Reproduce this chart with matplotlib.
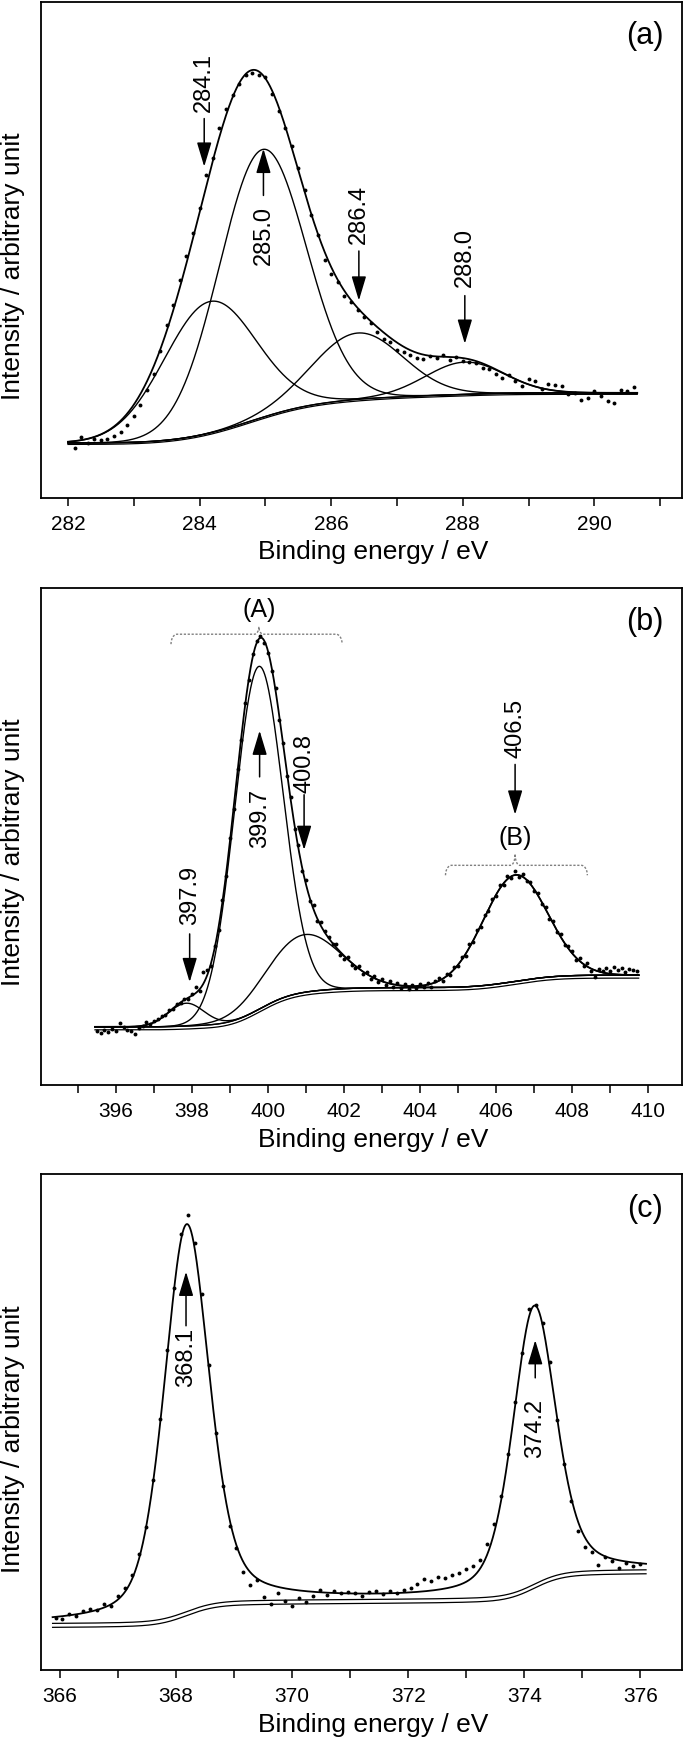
import numpy as np
import matplotlib
matplotlib.use("Agg")
import matplotlib.pyplot as plt

plt.rcParams['font.family'] = ['Liberation Sans', 'DejaVu Sans']

# ---------------- Panel (a): C 1s ----------------
a_x = np.round(np.arange(282.1, 290.65, 0.1), 2)
a_y = [10.0, 12.2, 11.0, 11.9, 11.6, 11.8, 12.6, 13.3, 14.8, 16.6,
       18.8, 21.8, 25.0, 29.6, 34.8, 39.0, 44.0, 48.8, 53.5, 58.5,
       65.2, 68.5, 74.5, 78.5, 81.2, 83.5, 85.3, 85.6, 85.2, 84.8,
       81.5, 78.0, 74.5, 71.0, 66.5, 62.0, 57.0, 53.0, 48.0, 45.2,
       43.5, 40.8, 39.5, 38.0, 36.5, 35.2, 33.5, 32.0, 31.5, 29.8,
       29.5, 28.8, 28.2, 28.0, 28.6, 28.2, 28.8, 27.8, 28.5, 27.6,
       27.5, 27.3, 26.3, 26.0, 25.0, 24.2, 24.8, 23.5, 22.5, 24.0,
       23.6, 22.0, 23.0, 22.8, 22.5, 21.0, 21.2, 19.8, 20.2, 21.5,
       20.5, 19.5, 19.2, 21.8, 21.5, 22.4]
a_centers = [284.15, 284.95, 286.40, 288.03]
a_heights = [26.5, 54.0, 13.4, 6.5]
a_fwhm = [1.65, 1.55, 1.60, 1.40]
a_eta = 0.0
a_bg_low = 11.1
a_groups = [[0, 1, 2, 3]]
a_steps = [10.1]
a_span = (282.0, 290.65)
a_xlim = (281.59, 291.33)
a_ticks = list(range(282, 292, 2))
a_minor = list(range(282, 292))
a_labels = ['284.1', '285.0', '286.4', '288.0']

# ---------------- Panel (b): N 1s ----------------
b_x = np.round(np.arange(395.5, 409.75, 0.1), 2)
b_y = [10.9, 10.5, 11.0, 10.7, 11.3, 10.8, 12.4, 11.6, 11.1, 10.9,
       10.2, 11.5, 11.9, 12.6, 12.2, 12.9, 13.2, 13.9, 14.0, 15.1,
       15.2, 16.3, 16.4, 17.4, 17.3, 18.4, 19.7, 19.0, 22.7, 23.2,
       24.0, 27.9, 31.2, 37.3, 42.0, 49.6, 55.5, 63.6, 69.4, 76.9,
       81.5, 86.8, 89.4, 90.4, 89.0, 87.0, 83.2, 79.8, 73.5, 68.9,
       62.2, 57.9, 51.6, 48.3, 43.0, 41.2, 37.0, 36.2, 33.0, 32.8,
       30.9, 29.8, 28.3, 28.4, 26.2, 25.4, 25.7, 24.2, 23.5, 23.9,
       22.3, 22.8, 21.3, 21.9, 20.8, 21.3, 20.2, 20.9, 19.8, 20.5,
       19.6, 20.3, 19.4, 20.1, 19.5, 20.4, 19.8, 20.6, 19.7, 20.9,
       21.5, 21.0, 22.4, 22.2, 23.8, 23.9, 25.8, 26.0, 28.3, 28.7,
       31.2, 31.8, 34.3, 35.0, 37.5, 38.0, 40.3, 40.2, 42.0, 41.6,
       43.0, 41.9, 42.4, 41.0, 40.9, 39.1, 38.7, 36.4, 35.9, 33.5,
       33.0, 30.7, 30.3, 28.1, 28.0, 26.9, 25.2, 25.6, 24.0, 24.6,
       23.0, 21.8, 23.4, 22.9, 23.6, 22.9, 23.8, 23.1, 23.6, 22.8,
       23.4, 23.2, 23.0]
b_centers = [397.85, 399.75, 400.95, 406.50]
b_heights = [4.6, 69.0, 11.6, 21.4]
b_fwhm = [1.10, 1.50, 2.30, 2.00]
b_eta = 0.0
b_bg_low = 11.7
b_groups = [[0, 1, 2], [3]]
b_steps = [7.9, 2.5]
b_span = (395.45, 409.75)
b_xlim = (394.03, 410.89)
b_ticks = list(range(396, 411, 2))
b_minor = list(range(395, 411))
b_labels = ['397.9', '399.7', '400.8', '406.5']
b_groups_text = ['(A)', '(B)']

# ---------------- Panel (c): Ag 3d ----------------
c_x = np.round(365.92 + 0.12 * np.arange(85), 2)
c_y = [10.5, 10.2, 11.2, 10.9, 11.8, 12.3, 12.0, 13.4, 13.0, 15.0,
       16.6, 19.2, 23.4, 28.9, 38.3, 50.6, 64.5, 77.0, 88.0, 91.7,
       86.0, 75.8, 61.5, 47.8, 37.0, 29.0, 24.5, 19.8, 17.1, 18.2,
       14.8, 13.4, 15.6, 14.0, 13.0, 14.6, 13.8, 15.0, 16.2, 15.2,
       15.9, 15.6, 15.8, 15.5, 15.0, 15.7, 16.0, 15.4, 15.9, 15.6,
       16.2, 16.6, 17.4, 18.3, 18.0, 18.8, 18.5, 19.2, 19.6, 20.3,
       21.0, 22.2, 25.5, 29.5, 35.0, 43.5, 54.0, 64.0, 72.8, 73.6,
       70.0, 62.0, 50.5, 41.5, 34.0, 28.0, 24.8, 23.7, 21.2, 22.8,
       22.0, 20.5, 21.6, 21.0, 21.4]
c_centers = [368.18, 374.17]
c_heights = [78.0, 56.0]
c_fwhm = [0.92, 0.88]
c_eta = 0.4
c_bg_low = 9.4
c_groups = [[0], [1]]
c_steps = [4.8, 6.0]
c_span = (365.87, 376.10)
c_xlim = (365.67, 376.72)
c_ticks = list(range(366, 377, 2))
c_minor = list(range(366, 377))
c_labels = ['368.1', '374.2']


def peak(x, c, h, w, eta):
    t = (x - c) / w
    return h * (eta / (1 + 4 * t ** 2) + (1 - eta) * np.exp(-4 * np.log(2) * t ** 2))


def model(span, centers, heights, fwhm, eta, low, groups, steps):
    xx = np.linspace(span[0], span[1], 1500)
    comps = [peak(xx, c, h, w, eta) for c, h, w in zip(centers, heights, fwhm)]
    bg = np.full_like(xx, low)
    for grp, st in zip(groups, steps):
        s = sum(comps[i] for i in grp)
        cum = np.concatenate([[0], np.cumsum(0.5 * (s[1:] + s[:-1]) * np.diff(xx))])
        bg = bg + st * cum / cum[-1]
    return xx, bg, comps


W, H = 685, 1740
fig = plt.figure(figsize=(W / 100, H / 100), dpi=100)
fig.patch.set_facecolor('white')

panels = [(3, 499), (589, 1086), (1175, 1671)]
axes = []
for top, bot in panels:
    ax = fig.add_axes([41 / W, 1 - bot / H, (682 - 41) / W, (bot - top) / H])
    axes.append(ax)


def style(ax, xlim, ticks, minor):
    ax.set_xlim(*xlim)
    ax.set_ylim(0, 100)
    ax.set_yticks([])
    ax.set_xticks(ticks)
    ax.set_xticks(minor, minor=True)
    ax.set_xticklabels([str(t) for t in ticks])
    ax.tick_params(axis='x', which='both', direction='out', length=5.5, width=1.1,
                   labelsize=15, pad=6, colors='black')
    for sp in ax.spines.values():
        sp.set_linewidth(1.3)


def arrow(ax, x, y_from, y_to):
    ax.annotate('', xy=(x, y_to), xytext=(x, y_from),
                arrowprops=dict(arrowstyle='-|>,head_length=1.0,head_width=0.3',
                                mutation_scale=15, lw=1.1, color='black',
                                shrinkA=0, shrinkB=0))


def label(ax, x, y, s):
    ax.text(x, y, s, rotation=90, ha='center', va='center', fontsize=17)


def brace(ax, x0, x1, xc, y, y_end, y_tip):
    t = np.linspace(0, np.pi / 2, 25)
    de, dt = 0.16, 0.12
    xs = list(x0 + de * (1 - np.cos(t))) + list(xc - dt + dt * np.sin(t))
    ys = list(y_end + (y - y_end) * np.sin(t)) + list(y + (y_tip - y) * (1 - np.cos(t)))
    xs += list(xc + dt - dt * np.sin(t[::-1])) + list(x1 - de * (1 - np.cos(t[::-1])))
    ys += list(y + (y_tip - y) * (1 - np.cos(t[::-1]))) + list(y_end + (y - y_end) * np.sin(t[::-1]))
    ax.plot(xs, ys, color='#808080', lw=1.0, linestyle=(0, (1.6, 1.2)))


def draw(ax, xd, yd, span, centers, heights, fwhm, eta, low, groups, steps,
         draw_comps=True, bg_offsets=(0.0,)):
    xx, bg, comps = model(span, centers, heights, fwhm, eta, low, groups, steps)
    for off in bg_offsets:
        ax.plot(xx, bg + off, color='black', lw=0.9)
    if draw_comps:
        for cmp in comps:
            ax.plot(xx, bg + cmp, color='black', lw=1.0)
    ax.plot(xx, bg + sum(comps), color='black', lw=1.3)
    ax.plot(xd, yd, 'o', ms=2.8, color='black', mec='none', zorder=5)


# Panel a
ax = axes[0]
draw(ax, a_x, a_y, a_span, a_centers, a_heights, a_fwhm, a_eta, a_bg_low, a_groups, a_steps,
     bg_offsets=(0.0, -0.3))
style(ax, a_xlim, a_ticks, a_minor)
arrow(ax, 284.07, 76.5, 66.8); label(ax, 284.07, 84.0, a_labels[0])
arrow(ax, 284.97, 61.0, 70.4); label(ax, 284.97, 53.2, a_labels[1])
arrow(ax, 286.42, 49.8, 39.8); label(ax, 286.42, 57.4, a_labels[2])
arrow(ax, 288.03, 40.8, 31.1); label(ax, 288.03, 48.6, a_labels[3])
ax.text(0.9423, 0.9335, '(a)', transform=ax.transAxes, ha='center', va='center', fontsize=22)

# Panel b
ax = axes[1]
draw(ax, b_x, b_y, b_span, b_centers, b_heights, b_fwhm, b_eta, b_bg_low, b_groups, b_steps,
     bg_offsets=(0.0, -0.6))
style(ax, b_xlim, b_ticks, b_minor)
arrow(ax, 397.94, 30.4, 20.7); label(ax, 397.94, 38.3, b_labels[0])
arrow(ax, 399.78, 62.0, 71.3); label(ax, 399.78, 53.9, b_labels[1])
arrow(ax, 400.95, 58.4, 47.3); label(ax, 400.95, 64.9, b_labels[2])
arrow(ax, 406.50, 64.5, 54.4); label(ax, 406.50, 72.0, b_labels[3])
brace(ax, 397.45, 401.95, 399.76, 90.7, 88.7, 92.2)
brace(ax, 404.67, 408.40, 406.50, 44.2, 42.2, 46.5)
ax.text(399.76, 95.7, b_groups_text[0], ha='center', va='center', fontsize=18)
ax.text(406.50, 49.8, b_groups_text[1], ha='center', va='center', fontsize=18)
ax.text(0.9423, 0.9326, '(b)', transform=ax.transAxes, ha='center', va='center', fontsize=22)

# Panel c
ax = axes[2]
draw(ax, c_x, c_y, c_span, c_centers, c_heights, c_fwhm, c_eta, c_bg_low, c_groups, c_steps,
     draw_comps=False, bg_offsets=(0.0, -0.8))
style(ax, c_xlim, c_ticks, c_minor)
arrow(ax, 368.17, 69.4, 80.3); label(ax, 368.17, 63.3, c_labels[0])
arrow(ax, 374.19, 58.9, 66.5); label(ax, 374.19, 48.9, c_labels[1])
ax.text(0.9423, 0.9315, '(c)', transform=ax.transAxes, ha='center', va='center', fontsize=22)

# axis titles
for yc in (266, 852, 1439):
    fig.text(13 / W, 1 - yc / H, 'Intensity / arbitrary unit', rotation=90,
             ha='center', va='center', fontsize=19)
for yc in (552, 1140, 1725):
    fig.text(373.5 / W, 1 - yc / H, 'Binding energy / eV', ha='center', va='center', fontsize=19)

fig.savefig('out.png', dpi=100, facecolor='white')
